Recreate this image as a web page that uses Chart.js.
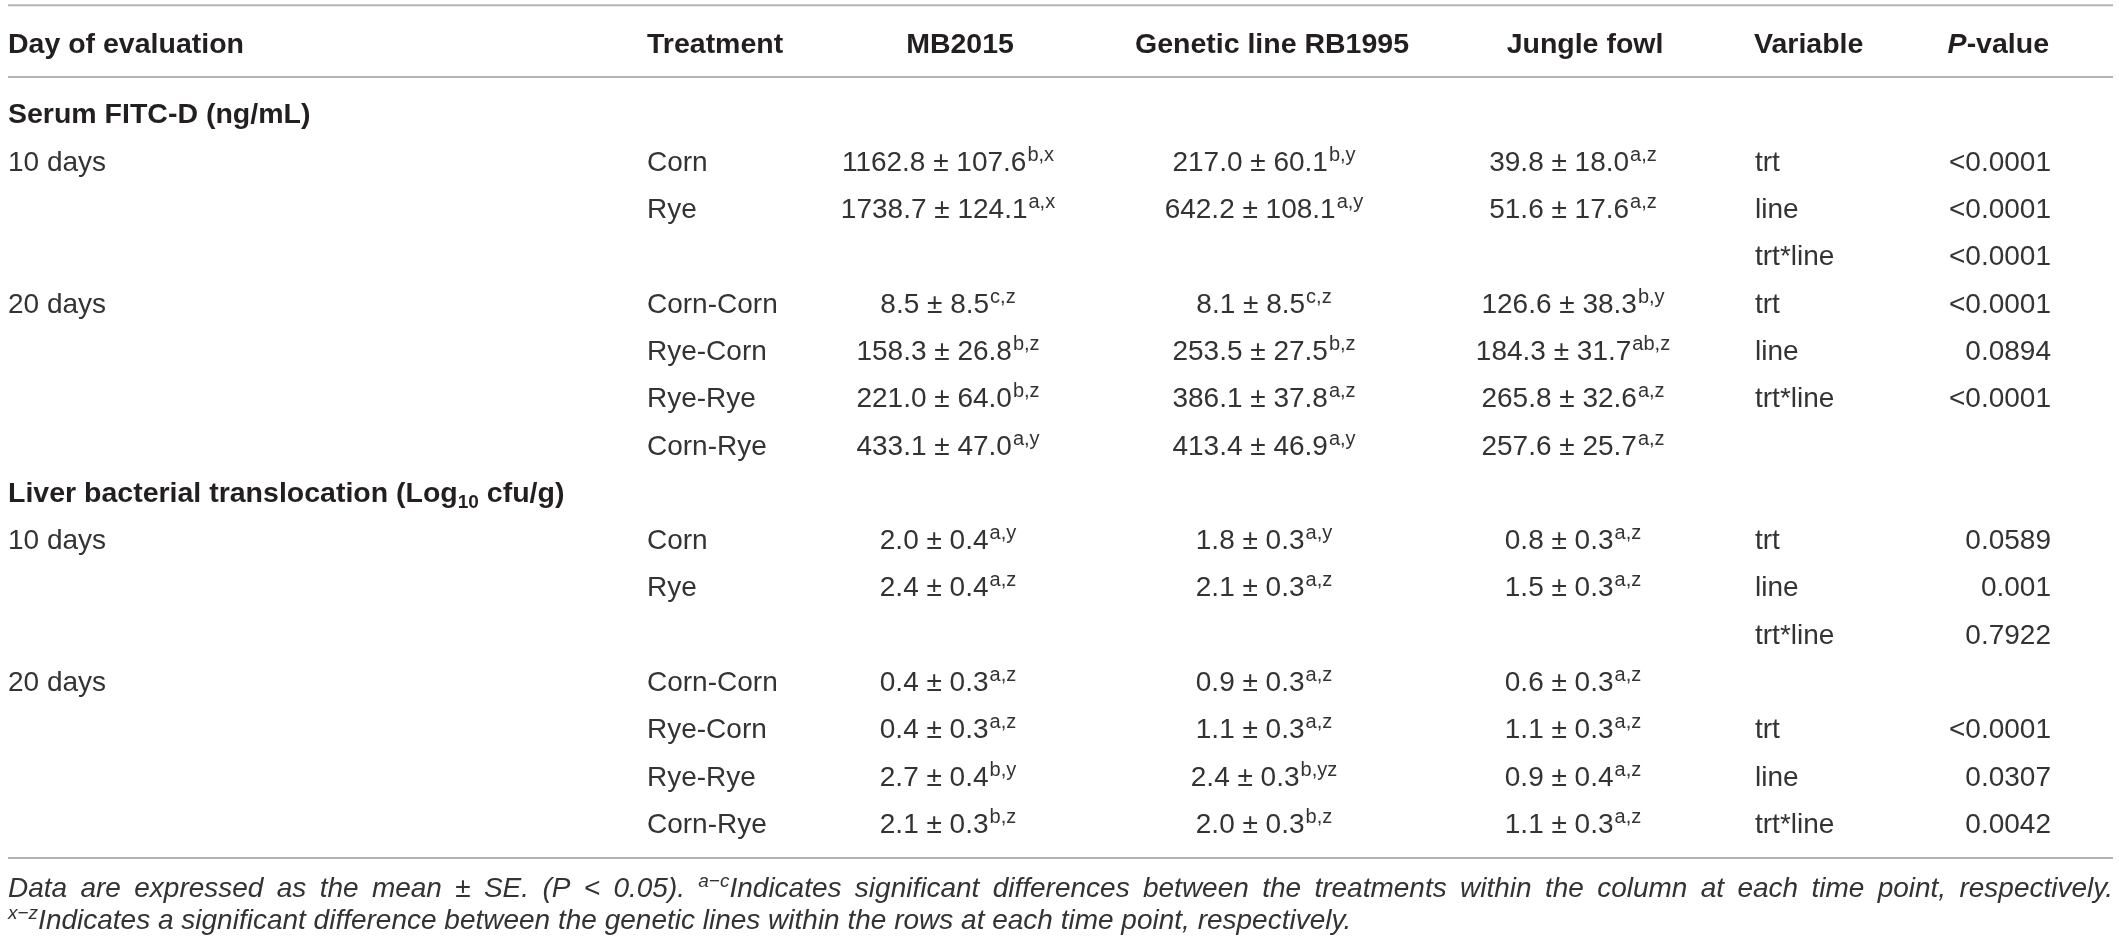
<!DOCTYPE html>
<html><head><meta charset="utf-8">
<script src="https://cdn.jsdelivr.net/npm/chart.js@4.4.1/dist/chart.umd.min.js"></script>
<style>html,body{margin:0;padding:0;background:#fff;}#wrap{width:2119px;height:946px;position:relative;}</style>
</head><body><div id="wrap"><canvas id="c"></canvas></div>
<script>
// ---------- DATA ----------
const rowKeys = ["Serum FITC-D","S10 Corn","S10 Rye","S10 int","S20 Corn-Corn","S20 Rye-Corn","S20 Rye-Rye","S20 Corn-Rye",
  "Liver","L10 Corn","L10 Rye","L10 int","L20 Corn-Corn","L20 Rye-Corn","L20 Rye-Rye","L20 Corn-Rye"];
const headerLabels = ["Day of evaluation","Treatment","MB2015","Genetic line RB1995","Jungle fowl","Variable","P-value"];
const sectionTitles = ["Serum FITC-D (ng/mL)", "Liver bacterial translocation (Log10 cfu/g)"];
const sectionRows = [0, 8];
const days = ["","10 days","","","20 days","","","","","10 days","","","20 days","","",""];
const treatments = ["","Corn","Rye","","Corn-Corn","Rye-Corn","Rye-Rye","Corn-Rye","","Corn","Rye","","Corn-Corn","Rye-Corn","Rye-Rye","Corn-Rye"];
const mb2015Mean = [null,1162.8,1738.7,null,8.5,158.3,221.0,433.1,null,2.0,2.4,null,0.4,0.4,2.7,2.1];
const mb2015SE   = [null,107.6,124.1,null,8.5,26.8,64.0,47.0,null,0.4,0.4,null,0.3,0.3,0.4,0.3];
const mb2015Sup  = [null,"b,x","a,x",null,"c,z","b,z","b,z","a,y",null,"a,y","a,z",null,"a,z","a,z","b,y","b,z"];
const rb1995Mean = [null,217.0,642.2,null,8.1,253.5,386.1,413.4,null,1.8,2.1,null,0.9,1.1,2.4,2.0];
const rb1995SE   = [null,60.1,108.1,null,8.5,27.5,37.8,46.9,null,0.3,0.3,null,0.3,0.3,0.3,0.3];
const rb1995Sup  = [null,"b,y","a,y",null,"c,z","b,z","a,z","a,y",null,"a,y","a,z",null,"a,z","a,z","b,yz","b,z"];
const jungleMean = [null,39.8,51.6,null,126.6,184.3,265.8,257.6,null,0.8,1.5,null,0.6,1.1,0.9,1.1];
const jungleSE   = [null,18.0,17.6,null,38.3,31.7,32.6,25.7,null,0.3,0.3,null,0.3,0.3,0.4,0.3];
const jungleSup  = [null,"a,z","a,z",null,"b,y","ab,z","a,z","a,z",null,"a,z","a,z",null,"a,z","a,z","a,z","a,z"];
const variables = ["","trt","line","trt*line","trt","line","trt*line","","","trt","line","trt*line","","trt","line","trt*line"];
const pValues = ["","<0.0001","<0.0001","<0.0001","<0.0001","0.0894","<0.0001","","","0.0589","0.001","0.7922","","<0.0001","0.0307","0.0042"];
const footLine1 = ["Data are expressed as the mean ± SE. (P < 0.05). ", "a\u2212c", "Indicates significant differences between the treatments within the column at each time point, respectively."];
const footLine2 = ["x\u2212z", "Indicates a significant difference between the genetic lines within the rows at each time point, respectively."];

// ---------- STYLE / LAYOUT ----------
const FAM = '"Liberation Sans", Arial, sans-serif';
const F_BODY = '28px ' + FAM;
const F_BOLD = 'bold 28.5px ' + FAM;
const F_SUP = '20px ' + FAM;
const F_SUB = 'bold 19px ' + FAM;
const F_FOOT = 'italic 28px ' + FAM;
const F_FOOTSUP = 'italic 19px ' + FAM;
const TXT = '#231f20';
const BODY_TXT = '#333333';
const RULE = '#b4b4b4';
const COLS = {
  day: {x: 8, hx: 8, align: 'left'},
  trt: {x: 647, hx: 647, align: 'left'},
  mb:  {x: 948, hx: 960, align: 'center'},
  rb:  {x: 1264, hx: 1272, align: 'center'},
  jf:  {x: 1573, hx: 1585, align: 'center'},
  vr:  {x: 1755, hx: 1754, align: 'left'},
  p:   {x: 2051, hx: 2049, align: 'right'}
};
const colOrder = ['day','trt','mb','rb','jf','vr','p'];

function plain(t){ return [{t: t, f: F_BODY, c: BODY_TXT}]; }
function valueCell(m, s, sup){
  return [{t: m.toFixed(1) + ' \u00b1 ' + s.toFixed(1), f: F_BODY, c: BODY_TXT}, {t: sup, f: F_SUP, dy: -10, c: BODY_TXT, pre: 1}];
}

function buildDataset(key, cells){
  const data = [], rich = [];
  cells.forEach((c, i) => { if (c) { data.push({x: COLS[key].x, y: rowKeys[i]}); rich.push(c); } });
  return {label: key, data: data, rich: rich, align: COLS[key].align, pointRadius: 0, pointHoverRadius: 0, showLine: false};
}

const dayCells = days.map((d, i) => {
  const si = sectionRows.indexOf(i);
  if (si === 0) return [{t: sectionTitles[0], f: F_BOLD}];
  if (si === 1) { const s = sectionTitles[1]; const a = s.indexOf('Log10');
    return [{t: s.slice(0, a + 3), f: F_BOLD}, {t: '10', f: F_SUB, dy: 6}, {t: s.slice(a + 5), f: F_BOLD}]; }
  return d ? plain(d) : null;
});
const datasets = [
  buildDataset('day', dayCells),
  buildDataset('trt', treatments.map(t => t ? plain(t) : null)),
  buildDataset('mb', mb2015Mean.map((m, i) => m === null ? null : valueCell(m, mb2015SE[i], mb2015Sup[i]))),
  buildDataset('rb', rb1995Mean.map((m, i) => m === null ? null : valueCell(m, rb1995SE[i], rb1995Sup[i]))),
  buildDataset('jf', jungleMean.map((m, i) => m === null ? null : valueCell(m, jungleSE[i], jungleSup[i]))),
  buildDataset('vr', variables.map(t => t ? plain(t) : null)),
  buildDataset('p', pValues.map(t => t ? plain(t) : null))
];

function drawRich(ctx, parts, x, y, align){
  let w = 0;
  parts.forEach(p => { ctx.font = p.f; p.w = ctx.measureText(p.t).width + (p.pre || 0); w += p.w; });
  let sx = align === 'left' ? x : (align === 'right' ? x - w : x - w / 2);
  parts.forEach(p => { ctx.font = p.f; ctx.fillStyle = p.c || TXT; ctx.fillText(p.t, sx + (p.pre || 0), y + (p.dy || 0)); sx += p.w; });
}

const tablePlugin = {
  id: 'tablePlugin',
  afterDatasetsDraw(chart){
    const ctx = chart.ctx, xs = chart.scales.x, ys = chart.scales.y;
    const r0 = ys.getPixelForValue(0), r1 = ys.getPixelForValue(1), rN = ys.getPixelForValue(rowKeys.length - 1);
    const pitch = r1 - r0;
    const left = xs.getPixelForValue(8), right = xs.getPixelForValue(2113);
    ctx.save();
    ctx.textBaseline = 'alphabetic';
    // rules
    ctx.strokeStyle = RULE; ctx.lineWidth = 2;
    [r0 - 2.29 * pitch, r0 - 0.77 * pitch, rN + 0.74 * pitch].forEach(yy => {
      ctx.beginPath(); ctx.moveTo(left, yy); ctx.lineTo(right, yy); ctx.stroke();
    });
    // header
    const hy = r0 - 1.49 * pitch + 10;
    colOrder.forEach((k, i) => {
      let parts;
      if (k === 'p') parts = [{t: 'P', f: 'italic ' + F_BOLD}, {t: headerLabels[i].slice(1), f: F_BOLD}];
      else parts = [{t: headerLabels[i], f: F_BOLD}];
      drawRich(ctx, parts, xs.getPixelForValue(COLS[k].hx), hy, COLS[k].align);
    });
    // cells
    chart.data.datasets.forEach((ds, di) => {
      const meta = chart.getDatasetMeta(di);
      meta.data.forEach((el, j) => {
        drawRich(ctx, ds.rich[j].map(p => Object.assign({}, p)), el.x, el.y + 10, ds.align);
      });
    });
    // footnotes
    const fy1 = rN + 0.74 * pitch + 39, fy2 = fy1 + 32;
    ctx.fillStyle = BODY_TXT;
    const words = [];
    footLine1[0].trim().split(' ').forEach(w => words.push([{t: w, f: F_FOOT}]));
    const rest = footLine1[2].split(' ');
    words.push([{t: footLine1[1], f: F_FOOTSUP, dy: -10}, {t: rest[0], f: F_FOOT}]);
    rest.slice(1).forEach(w => words.push([{t: w, f: F_FOOT}]));
    let total = 0;
    words.forEach(wp => { wp.forEach(p => { ctx.font = p.f; p.w = ctx.measureText(p.t).width; total += p.w; }); });
    const gap = (right - left - total) / (words.length - 1);
    let sx = left;
    words.forEach(wp => { wp.forEach(p => { ctx.font = p.f; ctx.fillText(p.t, sx, fy1 + (p.dy || 0)); sx += p.w; }); sx += gap; });
    drawRich(ctx, [{t: footLine2[0], f: F_FOOTSUP, dy: -10, c: BODY_TXT}, {t: footLine2[1], f: F_FOOT, c: BODY_TXT}], left, fy2, 'left');
    ctx.restore();
  }
};

new Chart(document.getElementById('c'), {
  type: 'scatter',
  data: {labels: rowKeys, datasets: datasets},
  options: {
    responsive: true, maintainAspectRatio: false, animation: false,
    layout: {padding: {top: 89.85, bottom: 99.4, left: 0, right: 0}},
    plugins: {legend: {display: false}, tooltip: {enabled: false}},
    events: [],
    scales: {
      x: {type: 'linear', min: 0, max: 2119, display: false},
      y: {type: 'category', labels: rowKeys, offset: true, display: false}
    }
  },
  plugins: [tablePlugin]
});
</script></body></html>
